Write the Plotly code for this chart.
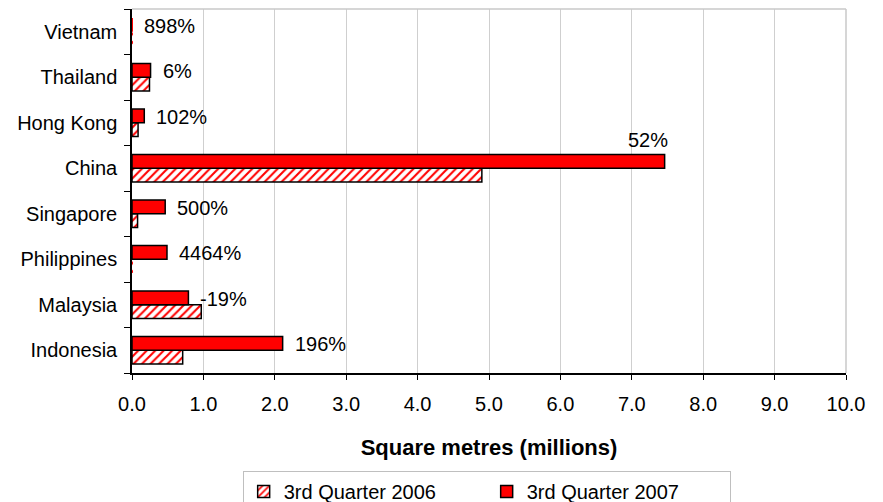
import plotly.graph_objects as go

# Floor space by country (millions of square metres)
countries = ["Indonesia", "Malaysia", "Philippines", "Singapore",
             "China", "Hong Kong", "Thailand", "Vietnam"]
q3_2006 = [0.71, 0.97, 0.0107, 0.078, 4.90, 0.085, 0.245, 0.0005]
q3_2007 = [2.11, 0.79, 0.49, 0.465, 7.46, 0.172, 0.26, 0.005]
growth_labels = ["196%", "-19%", "4464%", "500%", "52%", "102%", "6%", "898%"]

x_ticks = [0, 1, 2, 3, 4, 5, 6, 7, 8, 9, 10]

FONT = "Liberation Sans, Arial, sans-serif"
RED = "#FF0000"


def outline_widths(values, w=1.5, min_visible=0.02):
    # very small bars are left without an outline
    return [w if v >= min_visible else 0 for v in values]


fig = go.Figure()

fig.add_trace(go.Bar(
    name="3rd Quarter 2006",
    y=countries, x=q3_2006, orientation="h",
    marker=dict(
        color="white",
        pattern=dict(shape="/", fgcolor=RED, bgcolor="white",
                     size=6, solidity=0.35, fillmode="replace"),
        line=dict(color="black", width=outline_widths(q3_2006)),
    ),
))

fig.add_trace(go.Bar(
    name="3rd Quarter 2007",
    y=countries, x=q3_2007, orientation="h",
    marker=dict(color=RED,
                line=dict(color="black", width=outline_widths(q3_2007))),
))

# growth labels next to the 2007 bars
for c, v, lab in zip(countries, q3_2007, growth_labels):
    if c == "China":
        fig.add_annotation(x=v, y=c, text=lab, showarrow=False,
                           xanchor="right", xshift=5, yshift=28,
                           font=dict(family=FONT, size=20, color="black"))
    else:
        fig.add_annotation(x=v, y=c, text=lab, showarrow=False,
                           xanchor="left", xshift=10, yshift=6,
                           font=dict(family=FONT, size=20, color="black"))

# light frame on the top and right of the plot area
fig.add_shape(type="line", xref="paper", yref="paper", x0=0, x1=1, y0=1, y1=1,
              line=dict(color="#C8C8C8", width=1.5))
fig.add_shape(type="line", xref="paper", yref="paper", x0=1, x1=1, y0=0, y1=1,
              line=dict(color="#C8C8C8", width=1.5))

fig.update_layout(
    width=883, height=502,
    margin=dict(l=132, r=37, t=9, b=129, autoexpand=False),
    paper_bgcolor="white", plot_bgcolor="white",
    barmode="group", bargap=0.4, bargroupgap=0,
    font=dict(family=FONT, size=20, color="black"),
    showlegend=True,
    legend=dict(
        orientation="h", x=0.155, xanchor="left", y=-0.269, yanchor="top",
        bordercolor="#BFBFBF", borderwidth=1, bgcolor="white",
        font=dict(family=FONT, size=20, color="black"),
        entrywidth=198, traceorder="normal",
    ),
    xaxis=dict(
        range=[0, 10], tickvals=x_ticks, tickformat=".1f",
        showgrid=True, gridcolor="#CFCFCF", gridwidth=1,
        zeroline=False, showline=True, linecolor="black", linewidth=1.5,
        ticks="outside", ticklen=5, tickcolor="black",
        ticklabelstandoff=7, automargin=False,
        title=dict(text="<b>Square metres (millions)</b>", standoff=26,
                   font=dict(family=FONT, size=22, color="black")),
    ),
    yaxis=dict(
        type="category", categoryorder="array", categoryarray=countries,
        showgrid=False, zeroline=False,
        showline=True, linecolor="black", linewidth=1.5,
        ticks="outside", ticklen=6, tickcolor="black", tickson="boundaries",
        ticklabelstandoff=9, automargin=False,
    ),
)

fig.write_html("out.html")
